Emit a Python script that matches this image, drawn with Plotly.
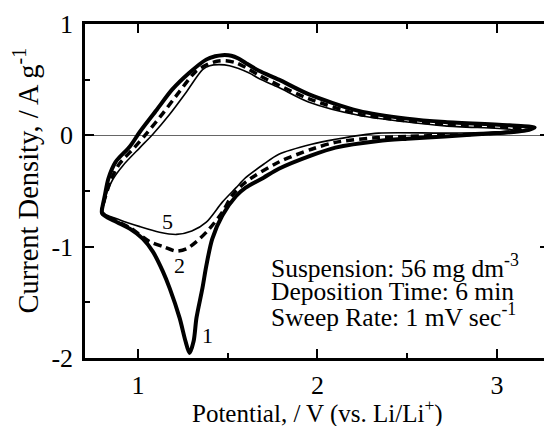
import plotly.graph_objects as go

# Cycle 1 (thick solid)
c1_potential = [3.21, 3.15, 3.0, 2.71, 2.5, 2.34, 2.10, 1.967, 1.785, 1.70, 1.60, 1.547, 1.47, 1.414, 1.381, 1.359,
                1.326, 1.31, 1.287, 1.265, 1.232, 1.177, 1.138, 1.083, 1.028, 0.956, 0.87, 0.80,
                0.805, 0.815, 0.835, 0.875, 0.955, 1.01, 1.105, 1.19, 1.285, 1.38, 1.43, 1.47, 1.52, 1.56, 1.60,
                1.674, 1.785, 1.95, 2.23, 2.5, 2.71, 3.07, 3.21]
c1_current = [0.07, 0.04, 0.02, -0.01, -0.03, -0.05, -0.11, -0.18, -0.30, -0.38, -0.47, -0.545, -0.72, -0.93, -1.17, -1.375,
              -1.64, -1.85, -1.955, -1.85, -1.64, -1.375, -1.22, -1.045, -0.93, -0.84, -0.77, -0.70,
              -0.62, -0.545, -0.39, -0.24, -0.10, 0.03, 0.23, 0.41, 0.56, 0.68, 0.71, 0.72, 0.715, 0.69, 0.65,
              0.58, 0.50, 0.37, 0.22, 0.15, 0.12, 0.09, 0.07]

# Cycle 2 (dashed)
c2_potential = [3.15, 3.0, 2.71, 2.5, 2.34, 2.10, 1.967, 1.785, 1.60, 1.525, 1.47, 1.398, 1.326, 1.27, 1.215, 1.14,
                1.066, 0.956, 0.87, 0.80,
                0.81, 0.85, 0.895, 0.98, 1.045, 1.14, 1.23, 1.32, 1.39, 1.44, 1.49, 1.55, 1.60, 1.674, 1.785, 1.95,
                2.23, 2.5, 2.71, 3.07, 3.15]
c2_current = [0.05, 0.02, 0.0, -0.01, -0.02, -0.063, -0.125, -0.24, -0.42, -0.54, -0.69, -0.84, -0.955, -1.02, -1.04, -1.0,
              -0.955, -0.83, -0.76, -0.69,
              -0.60, -0.40, -0.26, -0.11, 0.01, 0.20, 0.39, 0.57, 0.64, 0.665, 0.67, 0.65, 0.61, 0.54, 0.45, 0.33,
              0.19, 0.13, 0.10, 0.07, 0.05]

# Cycle 5 (thin solid)
c5_potential = [3.1, 3.0, 2.71, 2.34, 2.10, 1.967, 1.785, 1.70, 1.60, 1.547, 1.47, 1.381, 1.30, 1.215, 1.12, 1.011, 0.90, 0.80,
                0.81, 0.83, 0.862, 0.917, 1.011, 1.083, 1.177, 1.27, 1.36, 1.40, 1.45, 1.51, 1.62, 1.674, 1.785,
                1.95, 2.23, 2.5, 2.71, 3.07, 3.1]
c5_current = [0.04, 0.03, 0.02, 0.02, -0.036, -0.08, -0.17, -0.26, -0.38, -0.47, -0.60, -0.78, -0.86, -0.89, -0.87, -0.82, -0.76, -0.69,
              -0.62, -0.50, -0.39, -0.27, -0.11, 0.01, 0.19, 0.39, 0.59, 0.625, 0.635, 0.625, 0.56, 0.51, 0.43,
              0.30, 0.18, 0.12, 0.085, 0.055, 0.045]

cycle_labels = ["1", "2", "5"]
label_potential = [1.39, 1.232, 1.166]
label_current = [-1.80, -1.17, -0.77]

x_tickvals = [1, 2, 3]
x_ticktext = ["1", "2", "3"]
y_tickvals = [-2, -1, 0, 1]
y_ticktext = ["-2", "-1", "0", "1"]

info_lines = ["Suspension: 56 mg dm<sup>-3</sup>",
              "Deposition Time: 6 min",
              "Sweep Rate: 1 mV sec<sup>-1</sup>"]

FONT = "Liberation Serif"

fig = go.Figure()
fig.add_trace(go.Scatter(x=c1_potential, y=c1_current, mode="lines",
                         line=dict(color="black", width=4, shape="spline", smoothing=0.8)))
fig.add_trace(go.Scatter(x=c2_potential, y=c2_current, mode="lines",
                         line=dict(color="black", width=3.5, dash="8px,5px", shape="spline", smoothing=0.8)))
fig.add_trace(go.Scatter(x=c5_potential, y=c5_current, mode="lines",
                         line=dict(color="black", width=1.6, shape="spline", smoothing=0.8)))

for t, xv, yv in zip(cycle_labels, label_potential, label_current):
    fig.add_annotation(x=xv, y=yv, text=t, showarrow=False, xanchor="center", yanchor="middle",
                       font=dict(family=FONT, size=22, color="black"))

for i, t in enumerate(info_lines):
    fig.add_annotation(x=1.729, y=-1.18 - 0.22 * i, text=t, showarrow=False, xanchor="left", yanchor="middle",
                       font=dict(family=FONT, size=25.5, color="black"))

fig.add_annotation(xref="paper", yref="paper", x=0.5, y=-0.16,
                   text="Potential, / V (vs. Li/Li<sup>+</sup>)", showarrow=False,
                   xanchor="center", yanchor="middle", font=dict(family=FONT, size=25, color="black"))
fig.add_annotation(xref="paper", yref="paper", x=-0.128, y=0.53,
                   text="Current Density, / A g<sup>-1</sup>", showarrow=False, textangle=-90,
                   xanchor="center", yanchor="middle", font=dict(family=FONT, size=28.5, color="black"))

fig.update_layout(
    width=544, height=418,
    margin=dict(l=77, r=0, t=16, b=68),
    paper_bgcolor="white", plot_bgcolor="white",
    showlegend=False,
    font=dict(family=FONT, size=25, color="black"),
)
fig.update_xaxes(range=[0.705, 3.29], tickmode="array", tickvals=x_tickvals, ticktext=x_ticktext,
                 ticks="inside", ticklen=9, tickwidth=1.5, tickcolor="black",
                 minor=dict(dtick=0.5, tick0=1, ticks="inside", ticklen=5, tickwidth=1.5, tickcolor="black"),
                 showline=True, linewidth=2.5, linecolor="black", mirror="ticks",
                 showgrid=False, zeroline=False, ticklabelstandoff=2,
                 tickfont=dict(family=FONT, size=26, color="black"))
fig.update_yaxes(range=[-2, 1], tickmode="array", tickvals=y_tickvals, ticktext=y_ticktext,
                 ticks="inside", ticklen=9, tickwidth=1.5, tickcolor="black",
                 minor=dict(dtick=0.5, tick0=0, ticks="inside", ticklen=5, tickwidth=1.5, tickcolor="black"),
                 showline=True, linewidth=2.5, linecolor="black", mirror="ticks",
                 showgrid=False, zeroline=True, zerolinecolor="#666666", zerolinewidth=1,
                 ticklabelstandoff=4,
                 tickfont=dict(family=FONT, size=26, color="black"))

fig.write_html("out.html")
